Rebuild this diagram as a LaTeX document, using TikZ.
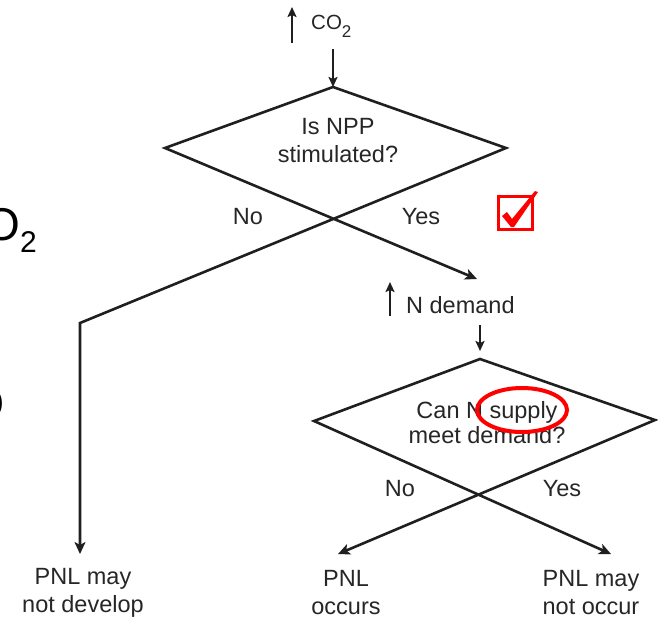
\documentclass[tikz,border=0pt]{standalone}
\usepackage{fontspec}
\setmainfont{Liberation Sans}
\usetikzlibrary{arrows.meta}
\begin{document}
\begin{tikzpicture}[x=1pt,y=-1pt,
  lbl/.style={font=\fontsize{23.5}{28}\selectfont, align=center, inner sep=0pt, text=black!85},
  edge/.style={line width=2.6pt, line join=miter, draw=black!88},
  arrboth/.style={edge, {Stealth[length=12pt,width=11pt,inset=3pt]}-{Stealth[length=12pt,width=11pt,inset=3pt]}},
  smallarr/.style={line width=2.5pt, draw=black!88, -{Stealth[length=10pt,width=9pt,inset=2pt]}},
  redbox/.style={draw=red, line width=3pt},
  frag/.style={inner sep=0pt, text=black}
]
\useasboundingbox (0,0) rectangle (658,619);

% cropped fragments at left edge
\node[frag, anchor=base east] (fragO) at (37,240)
  {\fontsize{46}{46}\selectfont O\raisebox{-0.28em}{\fontsize{30}{30}\selectfont 2}};
\node[frag, anchor=east] (fragP) at (4,404) {\fontsize{30}{30}\selectfont )};

% diamond 1
\coordinate (d1t) at (333,87);
\coordinate (d1l) at (165,148);
\coordinate (d1r) at (506,148);
\coordinate (d1no) at (80,323);
\coordinate (d1noend) at (80,554);
\coordinate (d1yes) at (477,279);
\draw[arrboth] (d1noend) -- (d1no) -- (d1r) -- (d1t) -- (d1l) -- (d1yes);

\node[lbl] (q1) at (338,141) {Is NPP\\stimulated?};
\node[lbl] (no1) at (248,217) {No};
\node[lbl] (yes1) at (421,217) {Yes};

% CO2 arrows
\coordinate (co2up0) at (292,43);
\coordinate (co2up1) at (292,7);
\draw[smallarr] (co2up0) -- (co2up1);
\node[lbl, anchor=base west] (co2) at (311,29)
  {\fontsize{20.5}{20}\selectfont CO\raisebox{-8pt}{\fontsize{17}{17}\selectfont 2}};
\coordinate (co2down) at (333,49);
\draw[smallarr] (co2down) -- (d1t);

% N demand
\coordinate (nup0) at (390,316);
\coordinate (nup1) at (390,282);
\draw[smallarr] (nup0) -- (nup1);
\node[lbl, anchor=west] (ndem) at (406,305) {N demand};

% diamond 2
\coordinate (d2t) at (480,359);
\coordinate (d2l) at (314,421);
\coordinate (d2r) at (655,420);
\coordinate (d2no) at (338,554);
\coordinate (d2yes) at (611,554);
\coordinate (ndown) at (480,325);
\draw[smallarr, shorten >=8pt] (ndown) -- (d2t);
\draw[arrboth] (d2no) -- (d2r) -- (d2t) -- (d2l) -- (d2yes);

\node[lbl, font=\fontsize{23.5}{25}\selectfont] (q2) at (487,423) {Can N supply\\meet demand?};
\node[lbl] (no2) at (400,489) {No};
\node[lbl] (yes2) at (562,489) {Yes};

% outcomes
\node[lbl] (out1) at (83,593) {PNL may\\not develop};
\node[lbl] (out2) at (346,593) {PNL\\occurs};
\node[lbl] (out3) at (591,593) {PNL may\\not occur};

% red annotations
\draw[redbox] (498,196) rectangle (532,229);
\fill[red] (502,216) -- (507,212) -- (512,219) -- (535,191) -- (538,192) -- (514,227) -- (511,227) -- cycle;
\draw[red, line width=4pt] (522,410) ellipse [x radius=45pt, y radius=22pt];
\end{tikzpicture}
\end{document}
